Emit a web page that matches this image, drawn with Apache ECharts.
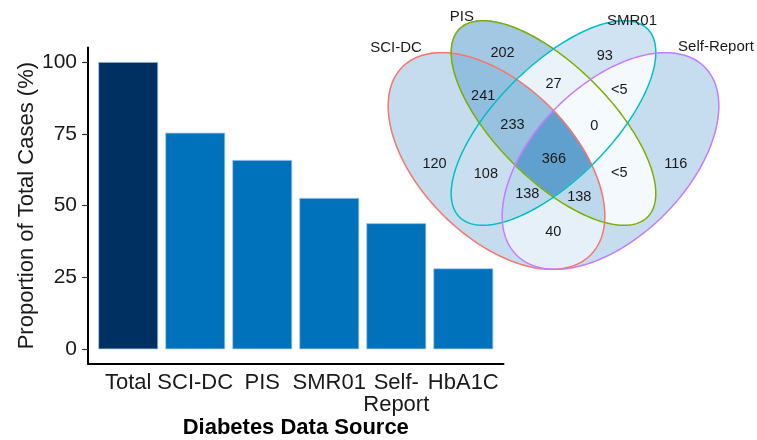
<!DOCTYPE html>
<html>
<head>
<meta charset="utf-8">
<script src="https://cdn.jsdelivr.net/npm/echarts@6/dist/echarts.min.js"></script>
<style>
html, body { margin: 0; padding: 0; background: #fff; }
#chart { width: 757px; height: 440px; }
</style>
</head>
<body>
<div id="chart"></div>
<script>
// ---- bar panel data ----
var sources = ['Total', 'SCI-DC', 'PIS', 'SMR01', 'Self-\nReport', 'HbA1C'];
var proportions = [100, 75.4, 65.9, 52.7, 43.9, 28.2];
var yTicks = [0, 25, 50, 75, 100];

// ---- venn panel data ----
var setNames = ['SCI-DC', 'PIS', 'SMR01', 'Self-Report'];
// sets in each region as a bitmask: 1 SCI-DC, 2 PIS, 4 SMR01, 8 Self-Report
var regionSets = [1, 2, 4, 8, 3, 6, 12, 7, 14, 5, 15, 10, 13, 11, 9];
var regionLabels = ['120', '202', '93', '116', '241', '27', '<5', '233', '0', '108', '366', '<5', '138', '138', '40'];
var regionCounts = [120, 202, 93, 116, 241, 27, 3, 233, 0, 108, 366, 3, 138, 138, 40];

// ---- venn layout (unit square) ----
var ellipses = [
    {cx: 0.35, cy: 0.47, a: 0.35, b: 0.20, rot: -45},
    {cx: 0.50, cy: 0.57, a: 0.35, b: 0.15, rot: -45},
    {cx: 0.50, cy: 0.57, a: 0.35, b: 0.15, rot: 45},
    {cx: 0.65, cy: 0.47, a: 0.35, b: 0.20, rot: 45}
];
var setColors = ['#F8766D', '#7CAE00', '#00BFC4', '#C77CFF'];
var setLabelPos = [[0.0855, 0.767], [0.259, 0.849], [0.7066, 0.838], [0.9276, 0.770]];
var regionLabelPos = [
    [0.187, 0.461], [0.366, 0.753], [0.635, 0.746], [0.822, 0.463],
    [0.315, 0.642], [0.500, 0.672], [0.673, 0.657], [0.392, 0.564],
    [0.607, 0.562], [0.322, 0.436], [0.501, 0.476], [0.673, 0.439],
    [0.431, 0.383], [0.568, 0.374], [0.4995, 0.282]
];

var FONT = '"Liberation Sans", Arial, sans-serif';

// x range of the bar panel (ggplot style 0.6 padding); the label axis steps by 0.1
var xMin = 0.4, xMax = 6.6;
var labelSlots = [];
for (var n = 0; n <= Math.round((xMax - xMin) * 10); n++) {
    var pos = xMin + n / 10, r = Math.round(pos);
    labelSlots.push(Math.abs(pos - r) < 1e-6 && r >= 1 && r <= sources.length ? sources[r - 1] : '');
}

function inside(e, u, v) {
    var t = e.rot * Math.PI / 180, c = Math.cos(t), s = Math.sin(t);
    var X = u - e.cx, Y = v - e.cy;
    var p = X * c + Y * s, q = -X * s + Y * c;
    return p * p / (e.a * e.a) + q * q / (e.b * e.b) < 1;
}
function xRange(e, v) {
    var t = e.rot * Math.PI / 180, c = Math.cos(t), s = Math.sin(t);
    var dy = v - e.cy, a2 = e.a * e.a, b2 = e.b * e.b;
    var A = c * c / a2 + s * s / b2;
    var B = 2 * dy * (c * s / a2 - c * s / b2);
    var C = dy * dy * (s * s / a2 + c * c / b2) - 1;
    var d = B * B - 4 * A * C;
    if (d <= 0) return null;
    d = Math.sqrt(d);
    return [e.cx + (-B - d) / (2 * A), e.cx + (-B + d) / (2 * A)];
}

// scanline split of the venn into region segments
var segs = {};
var step = 1 / 380;
for (var v = 0.16; v < 0.87; v += step) {
    var vm = v + step / 2;
    var xs = [];
    ellipses.forEach(function (e) {
        var rr = xRange(e, vm);
        if (rr) xs.push(rr[0], rr[1]);
    });
    if (!xs.length) continue;
    xs.sort(function (p, q) { return p - q; });
    for (var k = 0; k < xs.length - 1; k++) {
        var um = (xs[k] + xs[k + 1]) / 2, mask = 0;
        ellipses.forEach(function (e, j) { if (inside(e, um, vm)) mask |= (1 << j); });
        if (!mask) continue;
        (segs[mask] = segs[mask] || []).push([xs[k], xs[k + 1], v, v + step]);
    }
}

var myChart = echarts.init(document.getElementById('chart'));
var option = {
    animation: false,
    backgroundColor: '#fff',
    grid: [
        {left: 88, right: 253.5, top: 47.6, bottom: 76.3, containLabel: false, outerBoundsMode: 'none'},
        {left: 363.5, right: 13.5, top: -2.4, bottom: 138.4, containLabel: false, outerBoundsMode: 'none'}
    ],
    xAxis: [{
        type: 'value', gridIndex: 0, min: xMin, max: xMax,
        name: 'Diabetes Data Source', nameLocation: 'middle', nameGap: 53, nameMoveOverlap: false,
        nameTextStyle: {fontFamily: FONT, fontSize: 22, fontWeight: 'bold', color: '#000'},
        axisLine: {onZero: false, lineStyle: {color: '#000', width: 2}},
        axisTick: {show: false},
        axisLabel: {show: false},
        splitLine: {show: false}
    }, {
        type: 'value', gridIndex: 1, min: 0, max: 1, show: false
    }, {
        // labels only, one slot every 0.1 units so names sit under the bars
        type: 'category', gridIndex: 0, position: 'bottom', boundaryGap: false,
        data: labelSlots,
        axisLine: {show: false},
        axisTick: {show: false},
        splitLine: {show: false},
        axisLabel: {interval: 0, fontFamily: FONT, fontSize: 22, lineHeight: 22, color: '#1a1a1a', margin: 8}
    }],
    yAxis: [{
        type: 'value', gridIndex: 0, min: -5, max: 105,
        name: 'Proportion of Total Cases (%)', nameLocation: 'middle', nameGap: 50, nameMoveOverlap: false,
        nameTextStyle: {fontFamily: FONT, fontSize: 22, color: '#1a1a1a'},
        axisLine: {show: true, onZero: false, lineStyle: {color: '#000', width: 2}},
        axisTick: {show: true, customValues: yTicks, length: 6, lineStyle: {color: '#333', width: 1.2}},
        splitLine: {show: false},
        axisLabel: {customValues: yTicks, fontFamily: FONT, fontSize: 21, color: '#1a1a1a', margin: 11}
    }, {
        type: 'value', gridIndex: 1, min: 0.1, max: 0.9, show: false
    }],
    visualMap: {
        show: false, type: 'continuous', seriesIndex: 1, dimension: 0,
        min: 0, max: 366, inRange: {color: ['#F5FAFE', '#5FA0CE']}
    },
    series: [{
        type: 'bar', xAxisIndex: 0, yAxisIndex: 0, barWidth: 60,
        data: proportions.map(function (p, i) {
            return {
                value: [i + 1, p],
                itemStyle: {color: i === 0 ? '#003062' : '#0072BC', borderColor: '#a9cdec', borderWidth: 0.8}
            };
        })
    }, {
        type: 'custom', xAxisIndex: 1, yAxisIndex: 1, silent: true, clip: false, z: 2,
        data: regionCounts.map(function (c) { return [c]; }),
        renderItem: function (params, api) {
            var i = params.dataIndex;
            var color = api.visual('color');
            var children = (segs[regionSets[i]] || []).map(function (s) {
                var p0 = api.coord([s[0], s[3]]), p1 = api.coord([s[1], s[2]]);
                return {
                    type: 'rect',
                    shape: {x: p0[0] - 0.4, y: p0[1] - 0.4, width: p1[0] - p0[0] + 0.8, height: p1[1] - p0[1] + 0.8},
                    style: {fill: color}
                };
            });
            var lp = api.coord(regionLabelPos[i]);
            children.push({
                type: 'text', x: lp[0], y: lp[1], z2: 100,
                style: {text: regionLabels[i], fill: '#1a1a1a', fontSize: 14.5, fontFamily: FONT, align: 'center', verticalAlign: 'middle'}
            });
            return {type: 'group', children: children};
        }
    }, {
        type: 'custom', xAxisIndex: 1, yAxisIndex: 1, silent: true, clip: false, z: 3,
        data: setNames.map(function (nm, i) { return [i]; }),
        renderItem: function (params, api) {
            var i = params.dataIndex, e = ellipses[i];
            var t = e.rot * Math.PI / 180, pts = [];
            for (var k = 0; k < 240; k++) {
                var w = 2 * Math.PI * k / 240;
                var x = e.a * Math.cos(w), y = e.b * Math.sin(w);
                pts.push(api.coord([e.cx + x * Math.cos(t) - y * Math.sin(t), e.cy + x * Math.sin(t) + y * Math.cos(t)]));
            }
            var lp = api.coord(setLabelPos[i]);
            return {type: 'group', children: [{
                type: 'polygon', shape: {points: pts},
                style: {fill: 'none', stroke: setColors[i], lineWidth: 1.5}
            }, {
                type: 'text', x: lp[0], y: lp[1],
                style: {text: setNames[i], fill: '#1a1a1a', fontSize: 15, fontFamily: FONT, align: 'center', verticalAlign: 'middle'}
            }]};
        }
    }]
};
myChart.setOption(option);
</script>
</body>
</html>
